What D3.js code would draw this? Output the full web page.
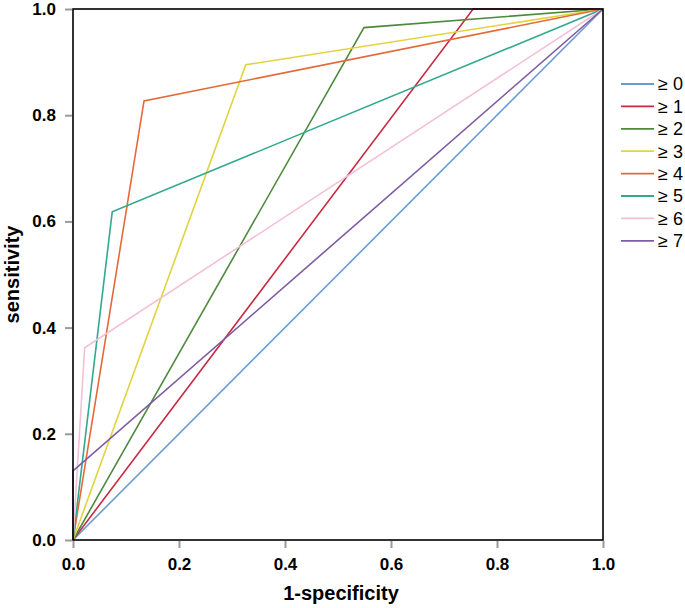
<!DOCTYPE html>
<html>
<head>
<meta charset="utf-8">
<script src="https://cdn.jsdelivr.net/npm/d3@7"></script>
<style>
  body { margin: 0; background: #fff; }
  svg { font-family: Arial, "Liberation Sans", sans-serif; }
</style>
</head>
<body>
<svg id="chart" width="685" height="608"></svg>
<script>
// === Data ===
const LABELS = ['≥ 0', '≥ 1', '≥ 2', '≥ 3', '≥ 4', '≥ 5', '≥ 6', '≥ 7'];
const COLORS = ['#6b9bd0', '#c92a42', '#4e8a3e', '#e2d43f', '#e5693a', '#31a98e', '#f3c0d7', '#7e5ca3'];
// x = 1-specificity, y = sensitivity
const FPR = [
  [0, 1],
  [0, 0.755, 1],
  [0, 0.549, 1],
  [0, 0.326, 1],
  [0, 0.134, 1],
  [0, 0.074, 1],
  [0, 0.022, 1],
  [0, 0, 1]
];
const TPR = [
  [0, 1],
  [0, 1, 1],
  [0, 0.965, 1],
  [0, 0.895, 1],
  [0, 0.827, 1],
  [0, 0.618, 1],
  [0, 0.362, 1],
  [0, 0.130, 1]
];
const TICKS = [0, 0.2, 0.4, 0.6, 0.8, 1.0];

// === Layout ===
const margin = { left: 73, top: 9, right: 82, bottom: 68 };
const W = 685, H = 608;
const svg = d3.select('#chart');

const x = d3.scaleLinear().domain([0, 1]).range([margin.left, W - margin.right]);
const y = d3.scaleLinear().domain([0, 1]).range([H - margin.bottom, margin.top]);

// --- curves ---
const line = d3.line().x(d => x(d[0])).y(d => y(d[1]));
const curves = svg.append('g');
LABELS.forEach((lab, i) => {
  const pts = FPR[i].map((v, j) => [v, TPR[i][j]]);
  curves.append('path')
    .attr('d', line(pts))
    .attr('fill', 'none')
    .attr('stroke', COLORS[i])
    .attr('stroke-width', 1.6);
});

// --- frame ---
svg.append('rect')
  .attr('x', x(0)).attr('y', y(1))
  .attr('width', x(1) - x(0)).attr('height', y(0) - y(1))
  .attr('fill', 'none').attr('stroke', '#000').attr('stroke-width', 1.6);

// --- axes ---
const xAxis = svg.append('g')
  .attr('transform', `translate(0,${y(0) + 1})`)
  .call(d3.axisBottom(x).tickValues(TICKS).tickFormat(d3.format('.1f')).tickSize(7).tickPadding(10));
const yAxis = svg.append('g')
  .attr('transform', `translate(${x(0) - 1},0)`)
  .call(d3.axisLeft(y).tickValues(TICKS).tickFormat(d3.format('.1f')).tickSize(7).tickPadding(9));

[xAxis, yAxis].forEach(a => {
  a.select('.domain').remove();
  a.selectAll('.tick line').attr('stroke', '#9a9a9a').attr('stroke-width', 2);
  a.selectAll('.tick text')
    .attr('font-size', 17).attr('font-weight', 'bold').attr('fill', '#000')
    .attr('font-family', 'Arial, "Liberation Sans", sans-serif');
});

// --- axis titles ---
svg.append('text')
  .attr('x', (x(0) + x(1)) / 2 + 3).attr('y', 600)
  .attr('text-anchor', 'middle')
  .attr('font-size', 20).attr('font-weight', 'bold')
  .text('1-specificity');

svg.append('text')
  .attr('transform', `translate(19,${(y(0) + y(1)) / 2}) rotate(-90)`)
  .attr('text-anchor', 'middle')
  .attr('font-size', 20).attr('font-weight', 'bold')
  .text('sensitivity');

// --- legend ---
const legend = svg.append('g').attr('transform', 'translate(621,84)');
LABELS.forEach((lab, i) => {
  const row = legend.append('g').attr('transform', `translate(0,${i * 22.4})`);
  row.append('line')
    .attr('x1', 0).attr('x2', 33).attr('y1', 0).attr('y2', 0)
    .attr('stroke', COLORS[i]).attr('stroke-width', 1.8);
  row.append('text')
    .attr('x', 37).attr('y', 0).attr('dy', '0.35em')
    .attr('font-size', 18)
    .text(lab);
});
</script>
</body>
</html>
